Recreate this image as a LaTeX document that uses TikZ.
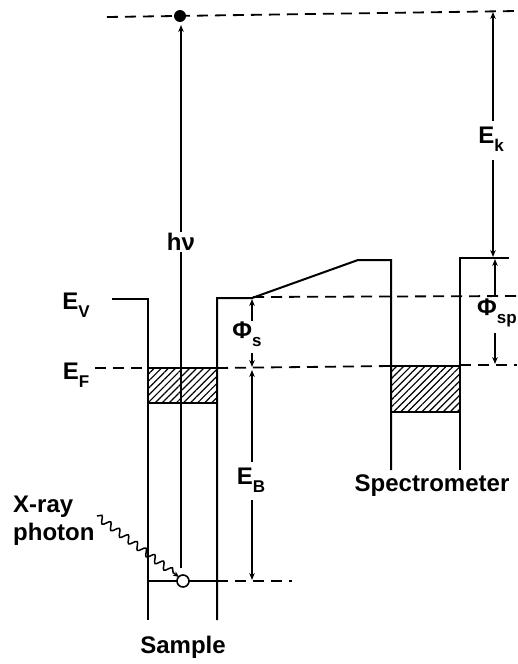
\documentclass[tikz,border=0pt]{standalone}
\usepackage{fontspec}
\setmainfont{Liberation Sans}
\usetikzlibrary{arrows.meta,patterns.meta,decorations.pathmorphing}
\newcommand\lowsub[1]{\raisebox{-0.32em}{\fontsize{17}{17}\selectfont #1}}
\begin{document}
\begin{tikzpicture}[x=1pt,y=-1pt,
  ln/.style={line width=2pt},
  dsh/.style={line width=1.8pt, dash pattern=on 11pt off 7pt},
  arr/.style={line width=1.6pt,-{Stealth[length=7pt,width=5.5pt]}},
  lbl/.style={font=\fontsize{24}{28}\selectfont\bfseries, inner sep=1pt},
  hatch/.style={line width=2pt,pattern={Lines[angle=45,distance=5pt,line width=1.2pt]}}]
\useasboundingbox (0,0) rectangle (517,664);
\clip (0,0) rectangle (517,664);

% ---- coordinates
\coordinate (vac0) at (107,17);
\coordinate (vac1) at (517,11);
\coordinate (hvbot) at (181,568);
\coordinate (hvtop) at (181,25);
\coordinate (ektop) at (493,12);
\coordinate (ekbot) at (493,257);
\coordinate (ekA) at (493,121);
\coordinate (ekB) at (493,160);
\coordinate (spA) at (495,296);
\coordinate (sptop) at (495,259);
\coordinate (spB) at (495,333);
\coordinate (spbot) at (495,364);
\coordinate (psA) at (252,321);
\coordinate (pstop) at (252,299);
\coordinate (psB) at (252,353);
\coordinate (psbot) at (252,367);
\coordinate (ebA) at (252,462);
\coordinate (ebtop) at (252,370);
\coordinate (ebB) at (252,500);
\coordinate (ebbot) at (252,580);
\coordinate (wav0) at (97,516);
\coordinate (wav1) at (179,577);

% ---- vacuum level and photoelectron
\draw[dsh] (vac0) -- (vac1);
\node[circle,fill=black,inner sep=0pt,minimum size=12pt] (dot) at (180,16) {};

% ---- sample
\draw[ln] (112,299) -- (148,299) -- (148,620);
\draw[ln] (217,620) -- (217,298) -- (252,298) -- (358,260) -- (391,260) -- (391,470);
\draw[hatch] (148,368) rectangle (217,403);
\draw[dsh] (95,368) -- (148,368);
\draw[dsh] (217,368) -- (391,366);
\draw[ln] (148,581) -- (217,581);
\draw[dsh] (217,581) -- (292,581);

% ---- spectrometer
\draw[ln] (460,470) -- (460,258) -- (509,258);
\draw[hatch] (391,366) rectangle (460,412);
\draw[dsh] (460,365) -- (517,365);
\draw[dsh] (253,297) -- (517,296);

% ---- labels
\node[lbl] (hv) at (181,242) {hν};
\node[lbl] (ek) at (491,139) {E\lowsub{k}};
\node[lbl,anchor=west] (phisp) at (476,313) {Φ\lowsub{sp}};
\node[lbl] (phis) at (247,334) {Φ\lowsub{s}};
\node[lbl] (eb) at (251,480) {E\lowsub{B}};
\node[lbl] (ev) at (76,305) {E\lowsub{V}};
\node[lbl] (ef) at (76,375) {E\lowsub{F}};
\node[lbl,anchor=north west,align=left] (xr) at (12,495) {X-ray\\photon};
\node[lbl] (sample) at (183,647) {Sample};
\node[lbl] (spec) at (432,486) {Spectrometer};

% ---- arrows
\draw[ln] (hvbot) -- (hv.south);
\draw[arr] (hv.north) -- (hvtop);
\draw[arr] (ekA) -- (ektop);
\draw[arr] (ekB) -- (ekbot);
\draw[arr] (spA) -- (sptop);
\draw[arr] (spB) -- (spbot);
\draw[arr] (psA) -- (pstop);
\draw[arr] (psB) -- (psbot);
\draw[arr] (ebA) -- (ebtop);
\draw[arr] (ebB) -- (ebbot);
\draw[line width=1.5pt,-{Stealth[length=6pt,width=5pt]},decorate,
  decoration={snake,amplitude=3.5pt,segment length=11pt,post length=5pt}] (wav0) -- (wav1);

% ---- core hole
\node[circle,draw,fill=white,line width=1.6pt,inner sep=0pt,minimum size=12pt] (hole) at (183,581) {};
\end{tikzpicture}
\end{document}
